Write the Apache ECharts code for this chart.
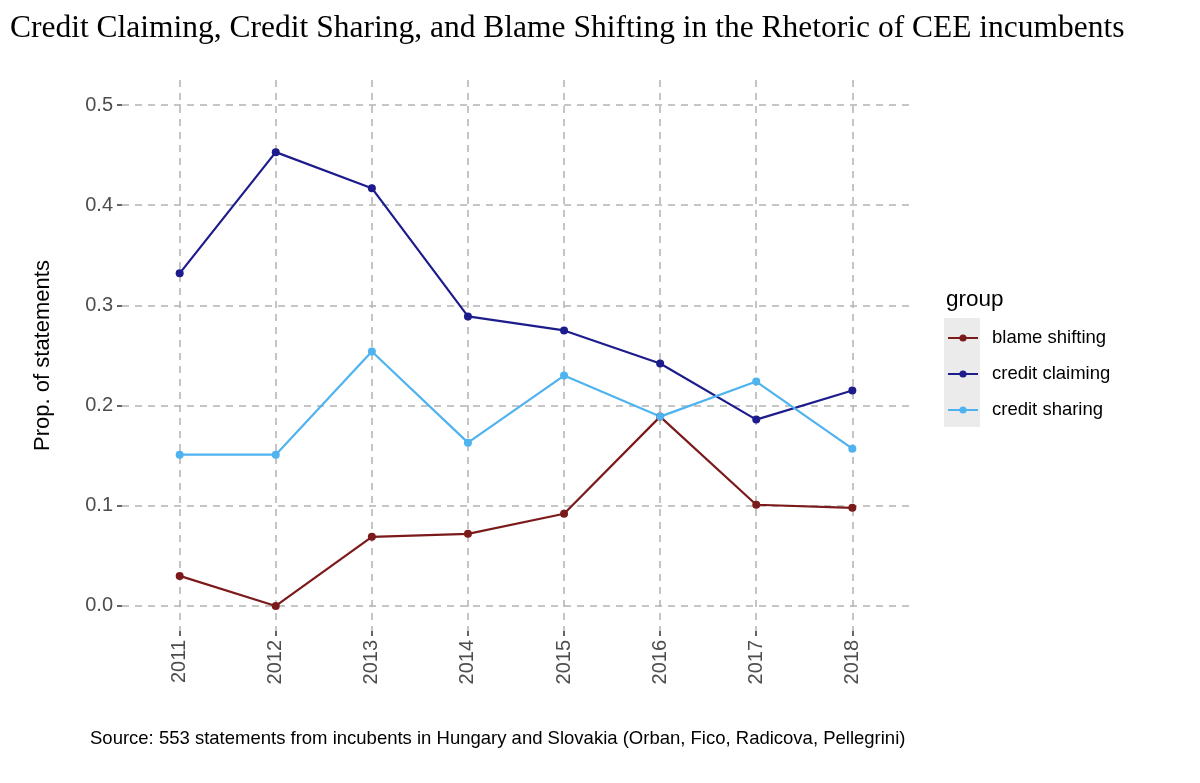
<!DOCTYPE html>
<html>
<head>
<meta charset="utf-8">
<script src="https://cdn.jsdelivr.net/npm/echarts@6/dist/echarts.min.js"></script>
<style>
  html, body { margin: 0; padding: 0; background: #fff; }
  #chart { width: 1200px; height: 783px; }
</style>
</head>
<body>
<div id="chart"></div>
<script>
// years on the x axis
var years = [2011, 2012, 2013, 2014, 2015, 2016, 2017, 2018];
var yTicks = [0, 0.1, 0.2, 0.3, 0.4, 0.5];

// proportions
var blameShifting  = [0.030, 0.000, 0.069, 0.072, 0.092, 0.189, 0.101, 0.098];
var creditClaiming = [0.332, 0.453, 0.417, 0.289, 0.275, 0.242, 0.186, 0.215];
var creditSharing  = [0.151, 0.151, 0.254, 0.163, 0.230, 0.189, 0.224, 0.157];

var groups = ['blame shifting', 'credit claiming', 'credit sharing'];

function pairs(vals) {
  return years.map(function (y, i) { return [y, vals[i]]; });
}

var chart = echarts.init(document.getElementById('chart'));
var font = 'Liberation Sans, Arial, sans-serif';
var gridLine = { show: true, lineStyle: { color: '#b3b3b3', width: 1.5, type: [7, 6] } };

function lineSeries(name, vals, color) {
  return {
    name: name,
    type: 'line',
    data: pairs(vals),
    symbol: 'circle',
    symbolSize: 8,
    color: color,
    lineStyle: { width: 2.2, color: color },
    itemStyle: { color: color },
    emphasis: { disabled: true }
  };
}

chart.setOption({
  animation: false,
  backgroundColor: '#fff',
  title: [{
    text: 'Credit Claiming, Credit Sharing, and Blame Shifting in the Rhetoric of CEE incumbents',
    left: 5, top: 8,
    textStyle: { fontFamily: 'Liberation Serif, DejaVu Serif, serif', fontSize: 31.5, fontWeight: 'normal', color: '#000' }
  }, {
    text: 'Source: 553 statements from incubents in Hungary and Slovakia (Orban, Fico, Radicova, Pellegrini)',
    left: 85, top: 724,
    textStyle: { fontFamily: font, fontSize: 18.5, fontWeight: 'normal', color: '#000' }
  }, {
    text: 'group',
    left: 941, top: 283,
    textStyle: { fontFamily: font, fontSize: 22.5, fontWeight: 'normal', color: '#000' }
  }],
  graphic: [{
    type: 'rect',
    shape: { x: 944, y: 318, width: 36, height: 109 },
    style: { fill: '#ebebeb' },
    z: 0
  }],
  legend: {
    orient: 'vertical',
    left: 947, top: 320,
    padding: 0,
    itemWidth: 30, itemHeight: 9,
    itemGap: 0,
    data: groups,
    textStyle: { fontFamily: font, fontSize: 18.5, color: '#000', lineHeight: 36, padding: [0, 0, 0, 9] },
    z: 5
  },
  grid: { left: 122, right: 290, top: 80, bottom: 152 },
  xAxis: {
    type: 'value',
    min: 2010.4, max: 2018.6,
    axisLine: { show: false, onZero: false },
    axisTick: { show: true, customValues: years, length: 5, lineStyle: { color: '#333', width: 1.5 } },
    axisLabel: {
      customValues: years, rotate: 90, margin: 9,
      fontFamily: font, fontSize: 20, color: '#4d4d4d',
      formatter: function (v) { return String(v); }
    },
    splitLine: gridLine
  },
  yAxis: {
    type: 'value',
    min: -0.025, max: 0.525,
    name: 'Prop. of statements',
    nameLocation: 'middle',
    nameRotate: 90,
    nameGap: 68,
    nameTextStyle: { fontFamily: font, fontSize: 22, color: '#000' },
    axisLine: { show: false, onZero: false },
    axisTick: { show: true, customValues: yTicks, length: 5, lineStyle: { color: '#333', width: 1.5 } },
    axisLabel: {
      customValues: yTicks, margin: 9,
      fontFamily: font, fontSize: 20, color: '#4d4d4d',
      formatter: function (v) { return v.toFixed(1); }
    },
    splitLine: gridLine
  },
  series: [
    lineSeries(groups[0], blameShifting, '#7b1a1a'),
    lineSeries(groups[1], creditClaiming, '#1c1c8c'),
    lineSeries(groups[2], creditSharing, '#4fb3f0')
  ]
});
</script>
</body>
</html>
